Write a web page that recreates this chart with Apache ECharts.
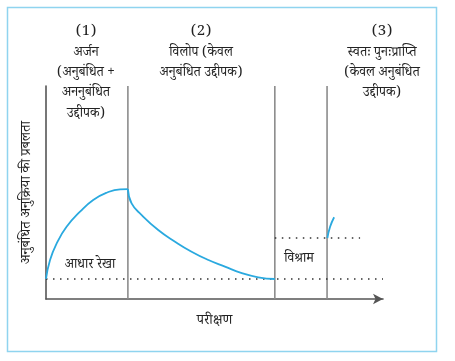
<!DOCTYPE html>
<html>
<head>
<meta charset="utf-8">
<script src="https://cdn.jsdelivr.net/npm/echarts@6/dist/echarts.min.js"></script>
<style>
html,body{margin:0;padding:0;background:#fff;}
#c{width:455px;height:361px;}
</style>
</head>
<body>
<div id="c"></div>
<script>
// Schematic values (x: trials scale 0-100, y: response strength 0-100)
var acquisition = [[0,9.4],[1.2,18.3],[3.2,26.2],[6.1,33.9],[10.1,41.0],[14.0,46.5],[18.0,49.9],[22.0,51.5],[24.3,51.6]];
var extinction = [[24.3,51.6],[25.4,44.9],[28.4,39.4],[33.3,32.4],[38.3,26.9],[43.2,22.2],[48.2,18.3],[53.1,15.2],[58.1,12.1],[63.0,10.2],[67.9,9.4]];
var recovery = [[83.5,28.6],[84.3,33.9],[85.5,38.4]];
var phaseBoundaries = [24.3, 67.9, 83.4];
var baselineLevel = 9.4;
var baselineExtent = [0, 100];
var restLevel = 28.6;
var restExtent = [67.9, 93.2];

var xAxisName = 'परीक्षण';
var yAxisName = 'अनुबंधित अनुक्रिया की प्रबलता';
var headerLines = [
  {x:86,  lines:['(1)','अर्जन','(अनुबंधित +','अननुबंधित','उद्दीपक)']},
  {x:201, lines:['(2)','विलोप (केवल','अनुबंधित उद्दीपक)']},
  {x:382, lines:['(3)','स्वतः पुनःप्राप्ति','(केवल अनुबंधित','उद्दीपक)']}
];
var baselineLabel = 'आधार रेखा';
var restLabel = 'विश्राम';

var FONT = '"Noto Serif Devanagari","Noto Sans Devanagari","Lohit Devanagari","FreeSerif","Noto Sans",serif';
var curveColor = '#2aa9df';

var chart = echarts.init(document.getElementById('c'));
var series = [];
phaseBoundaries.forEach(function(b){
  series.push({type:'line', data:[[b,0],[b,100]], symbol:'none', silent:true,
    lineStyle:{color:'#8c8c8c', width:1.6}, z:1});
});
series.push({type:'line', data:[[baselineExtent[0],baselineLevel],[baselineExtent[1],baselineLevel]], symbol:'none',
  lineStyle:{color:'#333', width:1.5, type:[1.5,5.5]}, z:2});
series.push({type:'line', data:[[restExtent[0],restLevel],[restExtent[1],restLevel]], symbol:'none',
  lineStyle:{color:'#333', width:1.5, type:[1.5,5.5]}, z:2});
[acquisition, extinction, recovery].forEach(function(d){
  series.push({type:'line', data:d, symbol:'none', smooth:true,
    lineStyle:{color:curveColor, width:1.8}, z:3});
});

var graphics = [
  {type:'rect', shape:{x:7.5,y:7.5,width:429,height:344}, style:{fill:'none', stroke:'#8fd4ef', lineWidth:1.5}, z:0}
];
headerLines.forEach(function(h){
  h.lines.forEach(function(t,i){
    graphics.push({type:'text', x:h.x, y:34 + i*20.3, style:{text:t, textAlign:'center', textVerticalAlign:'middle',
      font: (i===0?'15px ':'13.5px ') + FONT, fill:'#222'}});
  });
});
graphics.push({type:'text', x:90, y:267, style:{text:baselineLabel, textAlign:'center', textVerticalAlign:'middle', font:'13.5px '+FONT, fill:'#222'}});
graphics.push({type:'text', x:299, y:261, style:{text:restLabel, textAlign:'center', textVerticalAlign:'middle', font:'13.5px '+FONT, fill:'#222'}});

chart.setOption({
  animation:false,
  grid:{left:46, top:86, width:337, height:213},
  xAxis:{type:'value', min:0, max:100, name:xAxisName, nameLocation:'middle', nameGap:17,
    nameTextStyle:{fontFamily:FONT, fontSize:14, color:'#222'},
    axisLine:{show:true, lineStyle:{color:'#555', width:1.6}, symbol:['none','arrow'], symbolSize:[8,10]},
    axisTick:{show:false}, axisLabel:{show:false}, splitLine:{show:false}},
  yAxis:{type:'value', min:0, max:100, name:yAxisName, nameLocation:'middle', nameGap:10,
    nameTextStyle:{fontFamily:FONT, fontSize:14, color:'#222'},
    axisLine:{show:true, lineStyle:{color:'#555', width:1.6}},
    axisTick:{show:false}, axisLabel:{show:false}, splitLine:{show:false}},
  series:series,
  graphic:graphics
});
</script>
</body>
</html>
